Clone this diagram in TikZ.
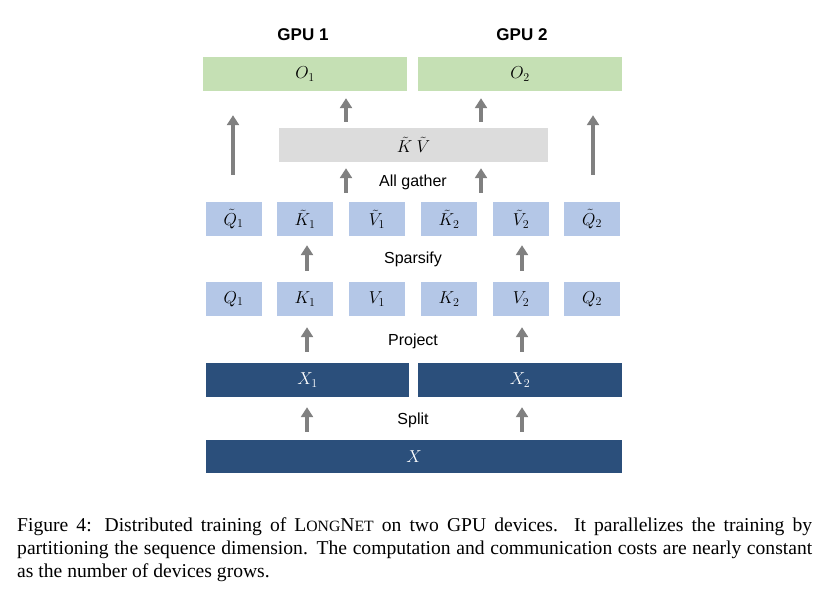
\documentclass[tikz,border=0pt]{standalone}
\usepackage{fontspec}
\setmainfont{Liberation Serif}
\newfontfamily\labelfont{Liberation Sans}
\usetikzlibrary{arrows.meta}
\definecolor{boxgreen}{HTML}{C5E0B4}
\definecolor{boxgray}{HTML}{DCDCDC}
\definecolor{boxlblue}{HTML}{B4C7E7}
\definecolor{boxdblue}{HTML}{2B4F7B}
\definecolor{arrgray}{HTML}{808080}
\newcommand\myscaps[1]{{\fontsize{15.7}{23}\selectfont #1}}
\begin{document}
\begin{tikzpicture}[x=1pt,y=-1pt,
  box/.style={inner sep=0pt, minimum height=34pt, font=\fontsize{17}{17}\selectfont},
  gbox/.style={box, fill=boxgreen},
  kvbox/.style={box, fill=boxgray},
  qbox/.style={box, fill=boxlblue, minimum width=56pt},
  xbox/.style={box, fill=boxdblue, text=white},
  lbl/.style={font=\labelfont\fontsize{16}{16}\selectfont, inner sep=0pt},
  gpu/.style={font=\labelfont\bfseries\fontsize{17}{17}\selectfont, inner sep=0pt},
  arr/.style={draw=arrgray, line width=4pt, -{Triangle[length=10pt,width=12pt]}}
]
\useasboundingbox (0,0) rectangle (832,590);

% labels
\node[gpu] (g1) at (303,35) {GPU 1};
\node[gpu] (g2) at (522,35) {GPU 2};

% outputs
\node[gbox, minimum width=204pt] (O1) at (305,74) {$O_1$};
\node[gbox, minimum width=204pt] (O2) at (520,74) {$O_2$};

% KV
\node[kvbox, minimum width=269pt] (KV) at (413.5,145) {$\tilde K\ \tilde V$};
\node[lbl] (ag) at (413,182) {All gather};

% tilde row
\node[qbox] (Qt1) at (233.5,219) {$\tilde Q_1$};
\node[qbox] (Kt1) at (305,219) {$\tilde K_1$};
\node[qbox] (Vt1) at (377,219) {$\tilde V_1$};
\node[qbox] (Kt2) at (449,219) {$\tilde K_2$};
\node[qbox] (Vt2) at (521,219) {$\tilde V_2$};
\node[qbox] (Qt2) at (592,219) {$\tilde Q_2$};
\node[lbl] (sp) at (413,259) {Sparsify};

% QKV row
\node[qbox] (Q1) at (233.5,299) {$Q_1$};
\node[qbox] (K1) at (305,299) {$K_1$};
\node[qbox] (V1) at (377,299) {$V_1$};
\node[qbox] (K2) at (449,299) {$K_2$};
\node[qbox] (V2) at (521,299) {$V_2$};
\node[qbox] (Q2) at (592,299) {$Q_2$};
\node[lbl] (pr) at (413,341) {Project};

% X
\node[xbox, minimum width=203pt] (X1) at (307.5,380) {$X_1$};
\node[xbox, minimum width=204pt] (X2) at (520,380) {$X_2$};
\node[lbl] (sl) at (413,420) {Split};
\node[xbox, minimum width=416pt, minimum height=33pt] (X) at (414,456.5) {$X$};

% arrow columns
\coordinate (cL) at (307,0);
\coordinate (cR) at (522,0);
\coordinate (aL) at (346,0);
\coordinate (aR) at (481,0);
\coordinate (oL) at (233,0);
\coordinate (oR) at (593,0);

% split
\draw[arr, shorten <=8pt, shorten >=10pt] (X.north -| cL) -- (X1.south -| cL);
\draw[arr, shorten <=8pt, shorten >=10pt] (X.north -| cR) -- (X2.south -| cR);
% project
\draw[arr, shorten <=11pt, shorten >=11pt] (X1.north -| cL) -- (K1.south -| cL);
\draw[arr, shorten <=11pt, shorten >=11pt] (X2.north -| cR) -- (V2.south -| cR);
% sparsify
\draw[arr, shorten <=11pt, shorten >=9pt] (K1.north -| cL) -- (Kt1.south -| cL);
\draw[arr, shorten <=11pt, shorten >=9pt] (V2.north -| cR) -- (Vt2.south -| cR);
% all gather
\draw[arr, shorten <=9pt, shorten >=6pt] (Vt1.north -| aL) -- (KV.south -| aL);
\draw[arr, shorten <=9pt, shorten >=6pt] (Kt2.north -| aR) -- (KV.south -| aR);
% KV to outputs
\draw[arr, shorten <=6pt, shorten >=7pt] (KV.north -| aL) -- (O1.south -| aL);
\draw[arr, shorten <=6pt, shorten >=7pt] (KV.north -| aR) -- (O2.south -| aR);
% Q to outputs
\draw[arr, shorten <=27pt, shorten >=24pt] (Qt1.north -| oL) -- (O1.south -| oL);
\draw[arr, shorten <=27pt, shorten >=24pt] (Qt2.north -| oR) -- (O2.south -| oR);

% caption
\node[anchor=base west, inner sep=0pt, text width=795pt, align=justify,
      font=\fontsize{19.6}{23}\selectfont] (cap) at (17,531)
  {Figure 4: Distributed training of L\myscaps{ONG}N\myscaps{ET} on two GPU devices.  It parallelizes the training by\linebreak
   partitioning the sequence dimension. The computation and communication costs are nearly constant\linebreak
   as the number of devices grows.};
\end{tikzpicture}
\end{document}
